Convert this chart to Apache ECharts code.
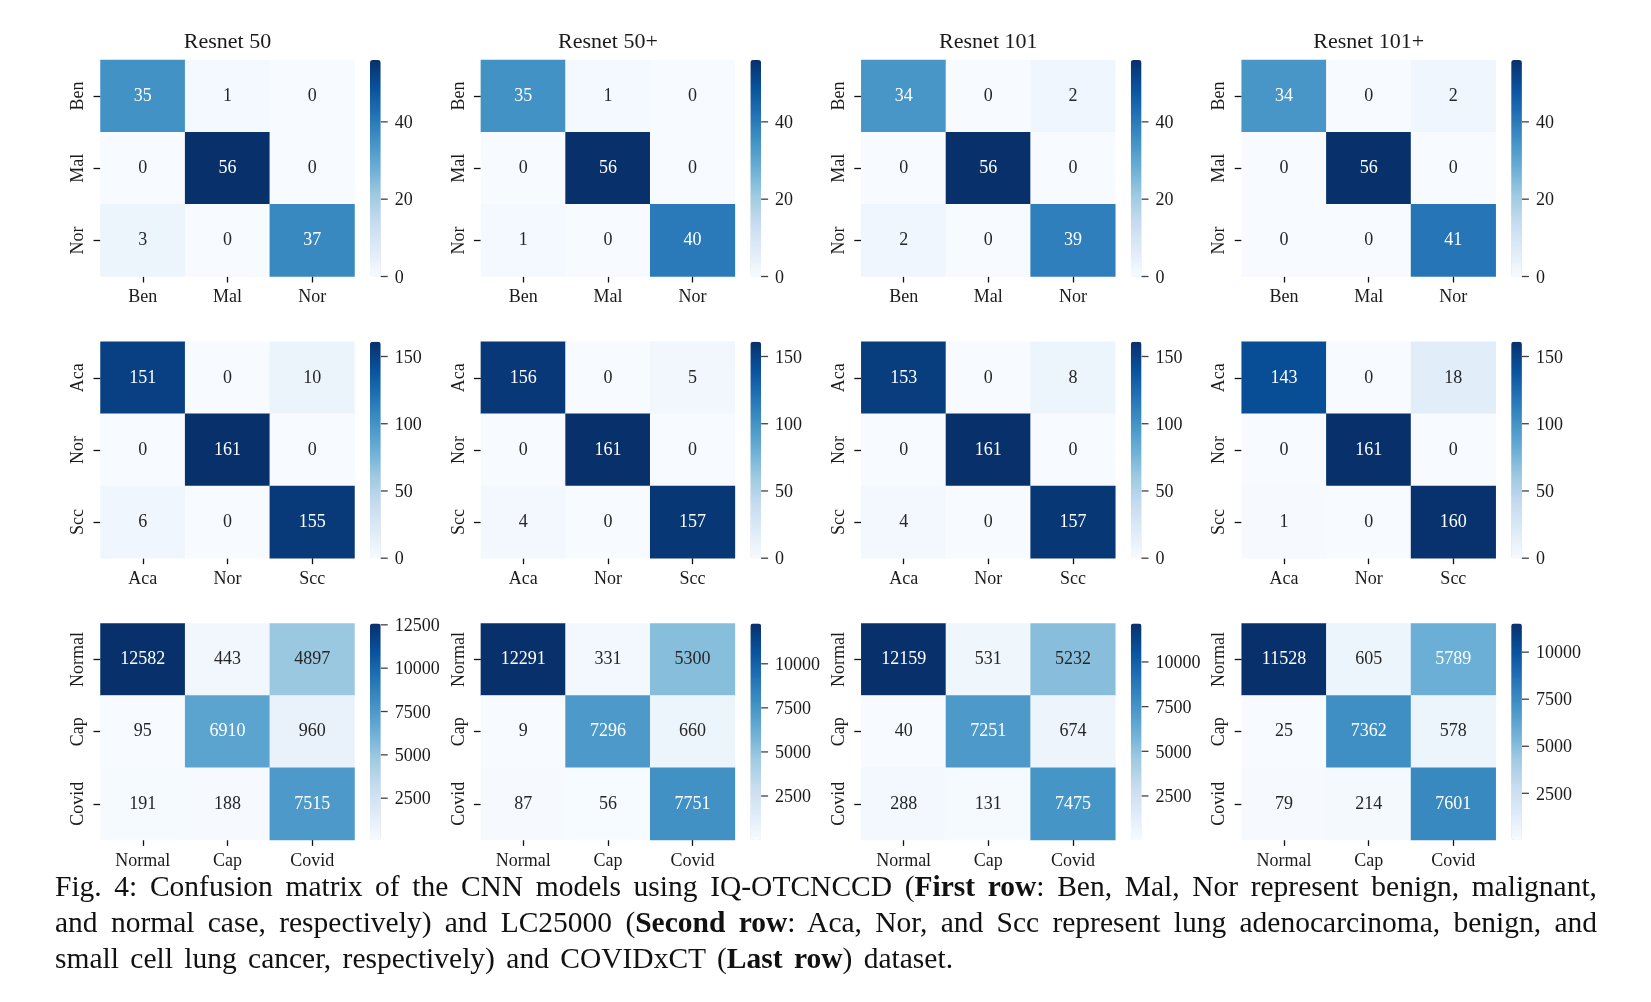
<!DOCTYPE html>
<html>
<head>
<meta charset="utf-8">
<style>
  html, body { margin: 0; padding: 0; background: #fff; }
  #main { position: absolute; left: 0; top: 0; width: 1651px; height: 1002px; }
  #caption { position: absolute; left: 55px; top: 868px; width: 1542px; font-family: "Liberation Serif", serif; font-size: 29.5px; line-height: 36px; color: #111; }
  #caption div { text-align: justify; text-align-last: justify; white-space: nowrap; }
  #caption div.last { text-align-last: left; word-spacing: 4px; }
</style>
<script src="https://cdn.jsdelivr.net/npm/echarts@6/dist/echarts.min.js"></script>
</head>
<body>
<div id="main"></div>
<div id="caption">
  <div>Fig. 4: Confusion matrix of the CNN models using IQ-OTCNCCD (<b>First row</b>: Ben, Mal, Nor represent benign, malignant,</div>
  <div>and normal case, respectively) and LC25000 (<b>Second row</b>: Aca, Nor, and Scc represent lung adenocarcinoma, benign, and</div>
  <div class="last">small cell lung cancer, respectively) and COVIDxCT (<b>Last row</b>) dataset.</div>
</div>
<script>
var models = ['Resnet 50', 'Resnet 50+', 'Resnet 101', 'Resnet 101+'];

var catsIq = ['Ben', 'Mal', 'Nor'];
var catsLc = ['Aca', 'Nor', 'Scc'];
var catsCovid = ['Normal', 'Cap', 'Covid'];

// 第一行 IQ-OTCNCCD
var iqResnet50 = [[35, 1, 0], [0, 56, 0], [3, 0, 37]];
var iqResnet50p = [[35, 1, 0], [0, 56, 0], [1, 0, 40]];
var iqResnet101 = [[34, 0, 2], [0, 56, 0], [2, 0, 39]];
var iqResnet101p = [[34, 0, 2], [0, 56, 0], [0, 0, 41]];

// 第二行 LC25000
var lcResnet50 = [[151, 0, 10], [0, 161, 0], [6, 0, 155]];
var lcResnet50p = [[156, 0, 5], [0, 161, 0], [4, 0, 157]];
var lcResnet101 = [[153, 0, 8], [0, 161, 0], [4, 0, 157]];
var lcResnet101p = [[143, 0, 18], [0, 161, 0], [1, 0, 160]];

// 第三行 COVIDxCT
var covidResnet50 = [[12582, 443, 4897], [95, 6910, 960], [191, 188, 7515]];
var covidResnet50p = [[12291, 331, 5300], [9, 7296, 660], [87, 56, 7751]];
var covidResnet101 = [[12159, 531, 5232], [40, 7251, 674], [288, 131, 7475]];
var covidResnet101p = [[11528, 605, 5789], [25, 7362, 578], [79, 214, 7601]];

var iqTicks = [0, 20, 40];
var lcTicks = [0, 50, 100, 150];
var covidTicks = [2500, 5000, 7500, 10000];
var covidTicksFirst = [2500, 5000, 7500, 10000, 12500];

var blues = ['#f7fbff', '#deebf7', '#c6dbef', '#9ecae1', '#6baed6', '#4292c6', '#2171b5', '#08519c', '#08306b'];

var rows = [
    {cats: catsIq, ticks: [iqTicks, iqTicks, iqTicks, iqTicks], matrices: [iqResnet50, iqResnet50p, iqResnet101, iqResnet101p]},
    {cats: catsLc, ticks: [lcTicks, lcTicks, lcTicks, lcTicks], matrices: [lcResnet50, lcResnet50p, lcResnet101, lcResnet101p]},
    {cats: catsCovid, ticks: [covidTicksFirst, covidTicks, covidTicks, covidTicks], matrices: [covidResnet50, covidResnet50p, covidResnet101, covidResnet101p]}
];

// 布局
var colLeft = [100.5, 480.9, 861.3, 1241.7];
var rowTop = [60, 341.7, 623.4];
var cellW = 254;
var cellH = 216.5;
var barOffset = 269.5;
var barW = 10.7;
var barLabelShift = 1.5;  // 色标文字略低于刻度线

var fontName = 'Liberation Serif';
var textColor = '#1a1a1a';

var option = {
    backgroundColor: '#fff',
    animation: false,
    title: [],
    grid: [],
    xAxis: [],
    yAxis: [],
    visualMap: [],
    series: []
};

models.forEach(function (name, c) {
    option.title.push({
        text: name,
        left: colLeft[c] + cellW / 2,
        top: 31,
        textAlign: 'center',
        padding: 0,
        textStyle: {fontFamily: fontName, fontSize: 22, fontWeight: 'normal', color: textColor}
    });
});

// 热力图
rows.forEach(function (row, r) {
    colLeft.forEach(function (left, c) {
        var matrix = row.matrices[c];
        var flat = matrix[0].concat(matrix[1], matrix[2]);
        var vmin = Math.min.apply(null, flat);
        var vmax = Math.max.apply(null, flat);
        var idx = option.series.length;
        var data = [];
        matrix.forEach(function (line, y) {
            line.forEach(function (v, x) {
                var dark = (v - vmin) / (vmax - vmin) > 0.46;
                data.push({value: [x, y, v], label: {color: dark ? '#fff' : '#262626'}});
            });
        });
        option.grid.push({left: left, top: rowTop[r], width: cellW, height: cellH});
        option.xAxis.push({
            type: 'category',
            gridIndex: idx,
            data: row.cats,
            axisLine: {show: false},
            axisTick: {show: true, alignWithLabel: true, length: 6, lineStyle: {color: '#111', width: 1.3}},
            axisLabel: {margin: 12, fontFamily: fontName, fontSize: 18, color: textColor},
            splitLine: {show: false}
        });
        option.yAxis.push({
            type: 'category',
            gridIndex: idx,
            data: row.cats,
            inverse: true,
            axisLine: {show: false},
            axisTick: {show: true, alignWithLabel: true, length: 7, lineStyle: {color: '#111', width: 1.3}},
            axisLabel: {margin: 13, rotate: 90, fontFamily: fontName, fontSize: 18, color: textColor},
            splitLine: {show: false}
        });
        option.visualMap.push({
            type: 'continuous',
            seriesIndex: idx,
            dimension: 2,
            min: vmin,
            max: vmax,
            left: left + barOffset,
            top: rowTop[r],
            padding: 0,
            itemWidth: barW,
            itemHeight: cellH,
            text: null,
            showLabel: false,
            calculable: false,
            hoverLink: false,
            inRange: {color: blues}
        });
        option.series.push({
            type: 'heatmap',
            name: models[c],
            xAxisIndex: idx,
            yAxisIndex: idx,
            data: data,
            silent: true,
            label: {show: true, fontFamily: fontName, fontSize: 18, formatter: function (p) { return p.value[2]; }}
        });
    });
});

// 色标刻度
rows.forEach(function (row, r) {
    colLeft.forEach(function (left, c) {
        var matrix = row.matrices[c];
        var flat = matrix[0].concat(matrix[1], matrix[2]);
        var idx = option.grid.length;
        option.grid.push({left: left + barOffset, top: rowTop[r] + barLabelShift, width: barW, height: cellH});
        option.xAxis.push({type: 'value', gridIndex: idx, show: false, min: 0, max: 1});
        option.yAxis.push({
            type: 'value',
            gridIndex: idx,
            position: 'right',
            min: Math.min.apply(null, flat),
            max: Math.max.apply(null, flat),
            axisLine: {show: false},
            axisTick: {show: false},
            axisLabel: {
                margin: 14,
                customValues: row.ticks[c],
                formatter: function (v) { return String(v); },
                fontFamily: fontName,
                fontSize: 18,
                color: textColor
            },
            splitLine: {show: false}
        });
        // 刻度线
        option.series.push({
            type: 'scatter',
            xAxisIndex: idx,
            yAxisIndex: idx,
            silent: true,
            clip: false,
            symbol: 'rect',
            symbolSize: [7, 1.3],
            symbolOffset: [3.5, -barLabelShift],
            itemStyle: {color: '#111'},
            data: row.ticks[c].map(function (t) { return [1, t]; })
        });
    });
});

var chart = echarts.init(document.getElementById('main'));
chart.setOption(option);
</script>
</body>
</html>
